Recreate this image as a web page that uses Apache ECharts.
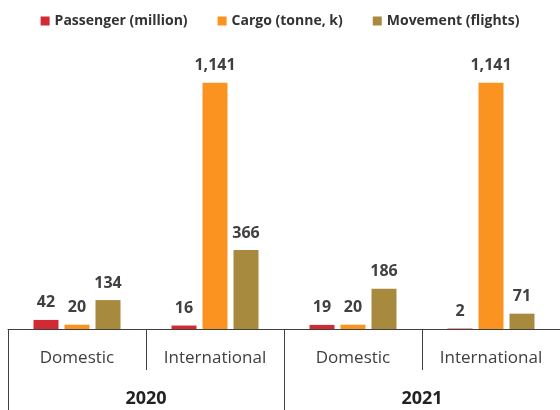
<!DOCTYPE html>
<html>
<head>
<meta charset="utf-8">
<script src="https://cdn.jsdelivr.net/npm/echarts@6/dist/echarts.min.js"></script>
<style>
  html, body { margin: 0; padding: 0; background: #fff; }
  #chart { width: 560px; height: 410px; }
</style>
</head>
<body>
<div id="chart"></div>
<script>
// Airport traffic by segment and year
const segments = ['Domestic', 'International', 'Domestic', 'International'];
const years = ['2020', '2021'];
const passenger = [42, 16, 19, 2];
const cargo = [20, 1141, 20, 1141];
const movement = [134, 366, 186, 71];
const seriesNames = ['Passenger (million)', 'Cargo (tonne, k)', 'Movement (flights)'];
const colors = ['#D22A33', '#FA931F', '#A88A3E'];

const chart = echarts.init(document.getElementById('chart'));

const fmt = v => v.toLocaleString('en-US');

function barSeries(name, data, color) {
  return {
    name: name,
    type: 'bar',
    data: data,
    xAxisIndex: 0,
    barWidth: 25,
    barGap: '24%',
    itemStyle: { color: color },
    label: {
      show: true,
      position: 'top',
      distance: 9,
      color: '#404040',
      fontFamily: 'Open Sans',
      fontWeight: 'bold',
      fontSize: 16,
      formatter: p => fmt(p.value)
    }
  };
}

chart.setOption({
  animation: false,
  color: colors,
  legend: {
    top: 9,
    left: 'center',
    itemWidth: 9,
    itemHeight: 9,
    itemGap: 30,
    icon: 'rect',
    textStyle: {
      color: '#333',
      fontFamily: 'Open Sans',
      fontWeight: 'bold',
      fontSize: 14
    },
    data: seriesNames
  },
  grid: { left: 8, right: -4, top: 70, bottom: 81, containLabel: false },
  xAxis: [
    {
      type: 'category',
      data: segments,
      position: 'bottom',
      axisLine: { show: true, lineStyle: { color: '#404040', width: 1 } },
      axisTick: { show: true, length: 41, lineStyle: { color: '#404040' } },
      axisLabel: {
        margin: 21,
        color: '#404040',
        fontFamily: 'Open Sans',
        fontSize: 17
      }
    },
    {
      type: 'category',
      data: years,
      position: 'bottom',
      axisLine: { show: false },
      axisTick: { show: true, length: 90, lineStyle: { color: '#404040' } },
      axisLabel: {
        margin: 61,
        color: '#222',
        fontFamily: 'Open Sans',
        fontWeight: 'bold',
        fontSize: 18
      }
    }
  ],
  yAxis: {
    type: 'value',
    min: 0,
    max: 1200,
    show: false,
    splitLine: { show: false }
  },
  series: [
    barSeries(seriesNames[0], passenger, colors[0]),
    barSeries(seriesNames[1], cargo, colors[1]),
    barSeries(seriesNames[2], movement, colors[2])
  ]
});
</script>
</body>
</html>
